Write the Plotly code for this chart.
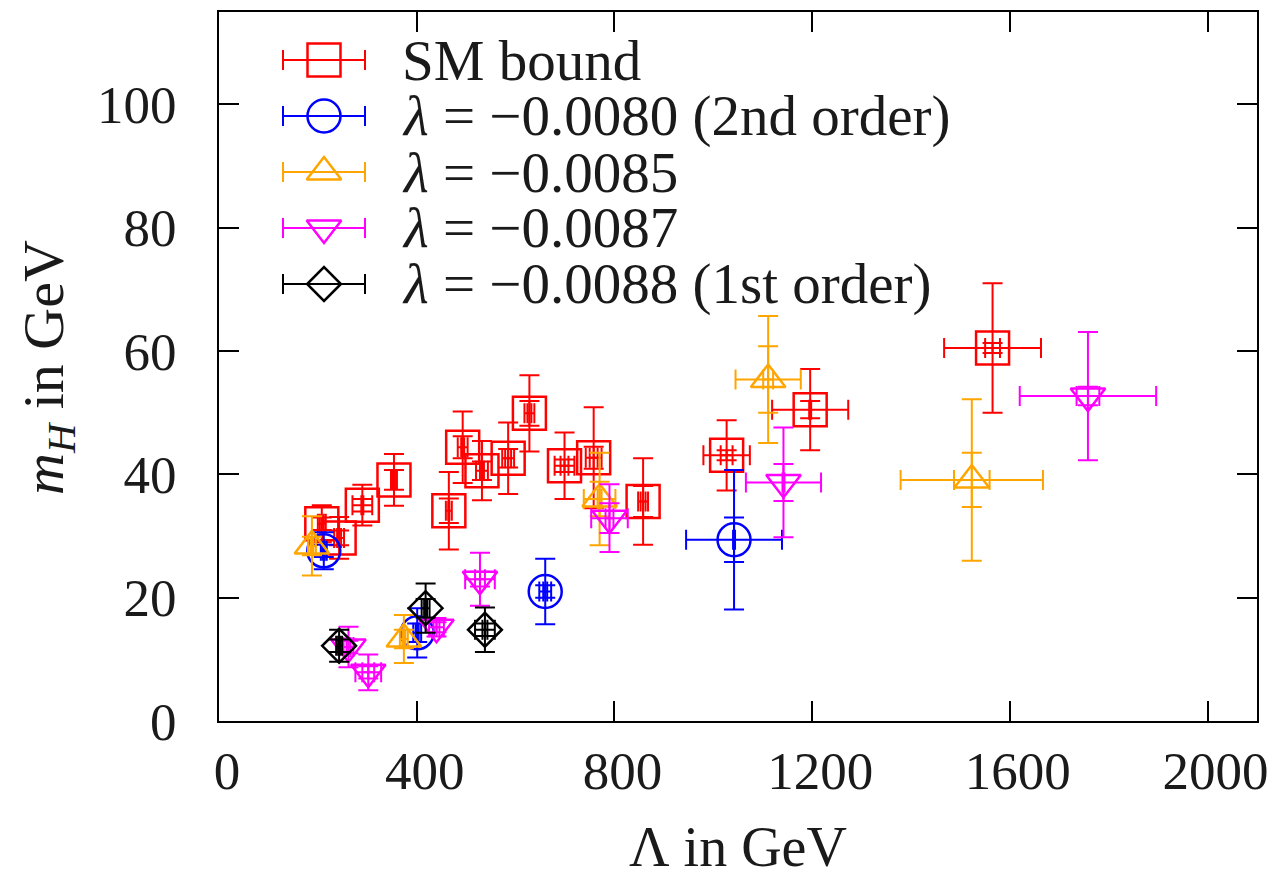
import plotly.graph_objects as go

# ---- data: cutoff Lambda (GeV), Higgs mass m_H (GeV), outer (total) and inner (statistical) errors
sm_x = [208, 243, 290, 354, 465, 493, 532, 585, 628, 699, 758, 858, 1027, 1196, 1565]
sm_y = [32.0, 29.7, 35.0, 39.1, 34.1, 44.4, 40.6, 42.6, 49.9, 41.4, 42.7, 35.6, 43.1, 50.5, 60.5]
sm_dx = [8, 10, 20, 6, 6, 10, 12, 12, 10, 20, 16, 10, 47, 77, 98]
sm_dy = [3.0, 3.4, 3.3, 4.2, 6.3, 5.8, 4.8, 5.8, 6.2, 5.4, 8.2, 7.0, 5.7, 6.6, 10.5]
sm_dx_in = [4, 4, 2, 2, 1, 3, 4, 6, 4, 8, 8, 5, 12, 2, 15]
sm_dy_in = [1.0, 1.2, 1.0, 1.6, 2.0, 1.8, 1.5, 1.5, 2.0, 1.0, 1.8, 2.5, 0.8, 1.4, 0.8]

l80_x = [212, 401, 660, 1042]
l80_y = [27.6, 14.3, 21.0, 29.4]
l80_dx = [6, 8, 12, 97]
l80_dy = [3.0, 4.0, 5.3, 11.3]
l80_dx_in = [2, 3, 4, 2]
l80_dy_in = [1.0, 1.5, 1.0, 3.6]

l85_x = [188, 374, 770, 1111, 1523]
l85_y = [28.4, 13.3, 36.0, 55.4, 39.1]
l85_dx = [8, 8, 32, 66, 144]
l85_dy = [4.8, 3.9, 7.5, 10.3, 13.1]
l85_dx_in = [3, 3, 4, 10, 36]
l85_dy_in = [1.5, 1.5, 2.8, 5.4, 4.4]

l87_x = [262, 302, 440, 528, 790, 1142, 1758]
l87_y = [12.0, 7.9, 15.2, 23.0, 32.9, 38.7, 52.7]
l87_dx = [10, 26, 15, 30, 37, 76, 138]
l87_dy = [3.3, 2.9, 1.5, 4.3, 5.5, 8.9, 10.4]
l87_dx_in = [4, 12, 6, 10, 8, 2, 23]
l87_dy_in = [1.0, 1.0, 0.8, 1.2, 2.4, 3.0, 1.5]

l88_x = [243, 418, 538]
l88_y = [12.2, 18.3, 14.8]
l88_dx = [6, 8, 20]
l88_dy = [2.6, 4.0, 3.6]
l88_dx_in = [2, 3, 5]
l88_dy_in = [1.0, 1.5, 1.0]

NB = "\u00a0"  # no-break space
labels = [
    f"SM{NB}bound",
    f"<i>λ</i>{NB}={NB}−0.0080{NB}(2nd{NB}order)",
    f"<i>λ</i>{NB}={NB}−0.0085",
    f"<i>λ</i>{NB}={NB}−0.0087",
    f"<i>λ</i>{NB}={NB}−0.0088{NB}(1st{NB}order)",
]

x_ticks = [0, 400, 800, 1200, 1600, 2000]
y_ticks = [0, 20, 40, 60, 80, 100]

series = [
    (sm_x, sm_y, sm_dx, sm_dy, sm_dx_in, sm_dy_in, "#ff0000", "square-open", 33),
    (l80_x, l80_y, l80_dx, l80_dy, l80_dx_in, l80_dy_in, "#0000ff", "circle-open", 33),
    (l85_x, l85_y, l85_dx, l85_dy, l85_dx_in, l85_dy_in, "#ffa500", "triangle-up-open", 30),
    (l87_x, l87_y, l87_dx, l87_dy, l87_dx_in, l87_dy_in, "#ff00ff", "triangle-down-open", 30),
    (l88_x, l88_y, l88_dx, l88_dy, l88_dx_in, l88_dy_in, "#000000", "diamond-open", 26),
]

W, H = 1277, 878
L, R, T, B = 219, 20, 12, 157
pw, ph = W - L - R, H - T - B

FONT = "Liberation Serif"
TXT = "#1a1a1a"
CAP = 10
LW = 2
MLW = 2.5

fig = go.Figure()

for (xs, ys, dxo, dyo, dxi, dyi, col, sym, msz) in series:
    # total error bars with the open marker
    fig.add_trace(go.Scatter(
        x=xs, y=ys, mode="markers", showlegend=False,
        marker=dict(symbol=sym, size=msz, color=col, line=dict(width=MLW, color=col)),
        error_x=dict(type="data", array=dxo, visible=True, color=col, thickness=LW, width=CAP),
        error_y=dict(type="data", array=dyo, visible=True, color=col, thickness=LW, width=CAP),
    ))
    # statistical error bars
    fig.add_trace(go.Scatter(
        x=xs, y=ys, mode="markers", showlegend=False,
        marker=dict(size=1, color="rgba(0,0,0,0)"),
        error_x=dict(type="data", array=dxi, visible=True, color=col, thickness=LW, width=CAP),
        error_y=dict(type="data", array=dyi, visible=True, color=col, thickness=LW, width=CAP),
    ))

# key: sample symbols with horizontal bars, drawn on an overlay axis in plot fractions
key_rows_px = [60, 116, 172, 228, 284]
key_cx = (324 - L) / pw
key_half = 41 / pw
key_text_x = (400 - L) / pw
for i, (s, lab) in enumerate(zip(series, labels)):
    col, sym, msz = s[6], s[7], s[8]
    yk = (T + ph - key_rows_px[i]) / ph
    fig.add_trace(go.Scatter(
        x=[key_cx], y=[yk], xaxis="x2", yaxis="y2", mode="markers", showlegend=False,
        marker=dict(symbol=sym, size=msz, color=col, line=dict(width=MLW, color=col)),
        error_x=dict(type="constant", value=key_half, visible=True, color=col, thickness=LW, width=CAP),
    ))
    fig.add_annotation(
        x=key_text_x, y=yk, xref="paper", yref="paper", text=lab, showarrow=False,
        xanchor="left", yanchor="middle", font=dict(family=FONT, size=57, color=TXT),
    )

axis_common = dict(
    ticks="inside", ticklen=20, tickwidth=2, tickcolor="black",
    showline=True, linewidth=2, linecolor="black", mirror="ticks",
    showgrid=False, zeroline=False,
    tickfont=dict(family=FONT, size=53, color=TXT),
)

fig.update_layout(
    width=W, height=H,
    margin=dict(l=L, r=R, t=T, b=B, autoexpand=False),
    paper_bgcolor="white", plot_bgcolor="white",
    xaxis=dict(range=[0, 2100], tickvals=x_ticks, ticktext=[str(v) for v in x_ticks],
               ticklabelstandoff=2, ticklabelshift=8, **axis_common),
    yaxis=dict(range=[0, 115], tickvals=y_ticks, ticktext=[str(v) for v in y_ticks],
               ticklabelstandoff=30, **axis_common),
    xaxis2=dict(range=[0, 1], overlaying="x", visible=False, fixedrange=True),
    yaxis2=dict(range=[0, 1], overlaying="y", visible=False, fixedrange=True),
    showlegend=False,
)

fig.add_annotation(
    x=0.5, y=(T + ph - 847) / ph, xref="paper", yref="paper", text=f"Λ{NB}in{NB}GeV",
    showarrow=False, xanchor="center", yanchor="middle",
    font=dict(family=FONT, size=56, color=TXT),
)
fig.add_annotation(
    x=(47 - L) / pw, y=(T + ph - 368) / ph, xref="paper", yref="paper",
    text=f"<i>m</i><sub><i>H</i></sub>{NB}in{NB}GeV", textangle=-90,
    showarrow=False, xanchor="center", yanchor="middle",
    font=dict(family=FONT, size=58, color=TXT),
)

fig.write_html("out.html")
